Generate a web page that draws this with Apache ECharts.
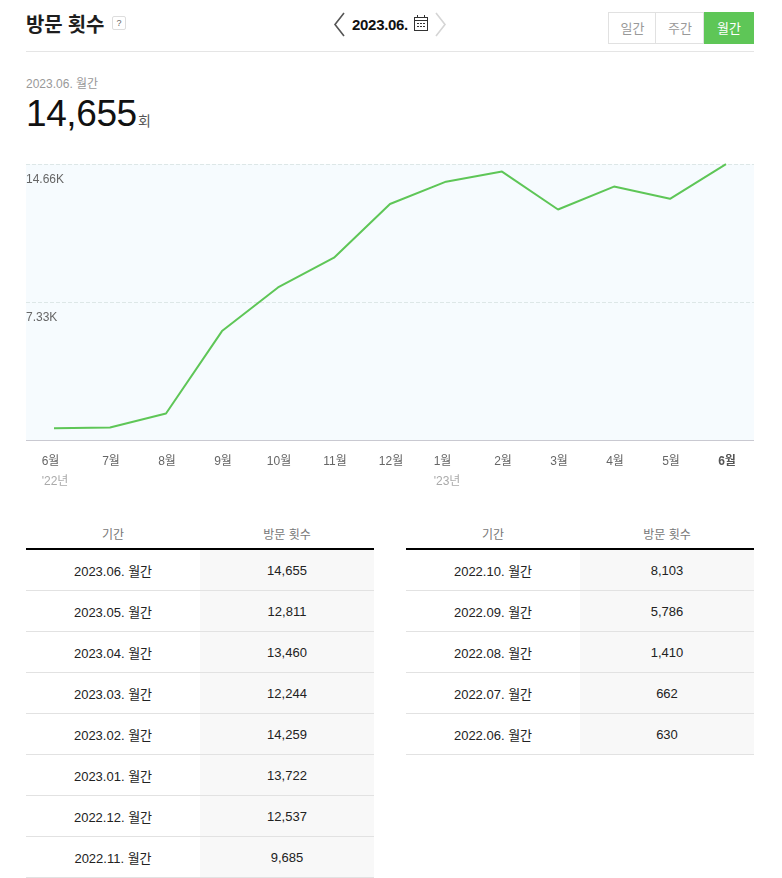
<!DOCTYPE html>
<html lang="ko">
<head>
<meta charset="utf-8">
<title>방문 횟수</title>
<script src="https://cdn.jsdelivr.net/npm/echarts@6/dist/echarts.min.js"></script>
<style>
  html, body { margin: 0; background: #fff; }
  body { position: relative; width: 782px; height: 878px; overflow: hidden;
    font-family: "Liberation Sans", "Noto Sans CJK KR", sans-serif; color: #222; }
  .abs { position: absolute; white-space: nowrap; }
  #title { left: 26px; top: 13px; font-size: 20px; line-height: 24px; font-weight: 700; color: #1e1e1e; letter-spacing: -0.2px; }
  #help { left: 112px; top: 16px; width: 12px; height: 12px; border: 1px solid #ddd; border-radius: 2px; font-size: 9px; line-height: 12px; text-align: center; color: #666; }
  #date { left: 352px; top: 15px; font-size: 15px; line-height: 20px; font-weight: 700; color: #111; letter-spacing: -0.3px; }
  #tabs { left: 608px; top: 12px; width: 146px; height: 32px; display: flex; }
  #tabs div { box-sizing: border-box; width: 48px; height: 32px; border: 1px solid #e1e1e1; border-left-width: 0; padding-left: 1px; font-size: 13px; line-height: 32px; text-align: center; color: #999; }
  #tabs div:first-child { border-left-width: 1px; }
  #tabs div.on { background: #5ec657; border-color: #5ec657; color: #fff; width: 50px; }
  #rule { left: 26px; top: 51px; width: 728px; height: 1px; background: #e5e5e5; }
  #sub { left: 26px; top: 76px; font-size: 12px; line-height: 16px; color: #999; }
  #big { left: 26px; top: 92px; font-size: 37px; line-height: 44px; color: #111; letter-spacing: -0.4px; }
  #unit { left: 138px; top: 113px; font-size: 14px; line-height: 16px; color: #555; }
  #chart { left: 26px; top: 150px; width: 728px; height: 350px; }
  table { position: absolute; top: 520px; width: 348px; border-collapse: collapse; table-layout: fixed; font-size: 13px; }
  th { height: 27px; padding: 0 0 1px; font-weight: 400; font-size: 12px; color: #777; border-bottom: 2px solid #000; text-align: center; }
  td { height: 40px; padding: 0; text-align: center; border-bottom: 1px solid #e2e2e2; color: #222; }
  td:last-child { background: #f8f8f8; padding-top: 1px; height: 39px; }
  th:first-child { width: 174px; }
</style>
</head>
<body>
<div class="abs" id="title">방문 횟수</div>
<div class="abs" id="help">?</div>
<svg class="abs" style="left:330px;top:12px" width="120" height="26" fill="none">
  <polyline points="14,1 5,12.5 14,24" stroke="#555" stroke-width="1.6"/>
  <polyline points="106,1 115,12.5 106,24" stroke="#d5d5d5" stroke-width="1.6"/>
  <g stroke="#333" stroke-width="1">
    <rect x="84.5" y="5.5" width="13" height="13"/>
    <line x1="84" y1="8.5" x2="98" y2="8.5"/>
    <line x1="87.5" y1="3" x2="87.5" y2="6"/>
    <line x1="94.5" y1="3" x2="94.5" y2="6"/>
    <line x1="87" y1="11.5" x2="95" y2="11.5" stroke-dasharray="2 1"/>
    <line x1="87" y1="14.5" x2="95" y2="14.5" stroke-dasharray="2 1"/>
  </g>
</svg>
<div class="abs" id="date">2023.06.</div>
<div class="abs" id="tabs"><div>일간</div><div>주간</div><div class="on">월간</div></div>
<div class="abs" id="rule"></div>
<div class="abs" id="sub">2023.06. 월간</div>
<div class="abs" id="big">14,655</div>
<div class="abs" id="unit">회</div>
<div class="abs" id="chart"></div>
<table id="tableLeft" style="left:26px"></table>
<table id="tableRight" style="left:406px"></table>

<script>
// oldest -> newest
const months = ['6월', '7월', '8월', '9월', '10월', '11월', '12월', '1월', '2월', '3월', '4월', '5월', '6월']
const years = { 0: "'22년", 7: "'23년" }
const periods = ['2022.06.', '2022.07.', '2022.08.', '2022.09.', '2022.10.', '2022.11.', '2022.12.', '2023.01.', '2023.02.', '2023.03.', '2023.04.', '2023.05.', '2023.06.']
const visits = [630, 662, 1410, 5786, 8103, 9685, 12537, 13722, 14259, 12244, 13460, 12811, 14655]
const yMax = 14660
const yStep = 7330

const chart = echarts.init(document.getElementById('chart'))

function monthLabel(value, index) {
  if (index === months.length - 1) return `{last|${value}}`
  return years[index] ? `{m|${value}}\n{y|${years[index]}}` : `{m|${value}}`
}

chart.setOption({
  animation: false,
  tooltip: { trigger: 'axis' },
  grid: {
    left: 0,
    right: 0,
    top: 14,
    height: 276,
    outerBoundsMode: 'none',
    show: true,
    backgroundColor: '#f6fbfe',
    borderWidth: 0,
  },
  textStyle: { fontFamily: '"Liberation Sans", "Noto Sans CJK KR", sans-serif' },
  xAxis: {
    type: 'category',
    boundaryGap: true,
    data: months,
    axisLine: { lineStyle: { color: '#c9c9d1', width: 1 } },
    axisTick: { show: false },
    axisLabel: {
      interval: 0,
      margin: 12,
      padding: [0, 0, 0, 2],
      formatter: monthLabel,
      rich: {
        m: { align: 'left', fontSize: 12, color: '#666', lineHeight: 20 },
        y: { align: 'left', fontSize: 12, color: '#aaa', lineHeight: 20 },
        last: { fontSize: 12, fontWeight: 700, color: '#555', lineHeight: 20 },
      },
    },
  },
  yAxis: {
    type: 'value',
    min: 0,
    max: yMax,
    interval: yStep,
    axisLine: { show: false },
    axisTick: { show: false },
    splitLine: { lineStyle: { color: '#dde7e7', type: 'dashed', width: 1 } },
    axisLabel: {
      inside: true,
      margin: 0,
      fontSize: 12,
      color: '#666',
      verticalAlign: 'top',
      padding: [10, 0, 0, 0],
      formatter: (v) => (v === 0 ? '' : (v / 1000).toFixed(2) + 'K'),
    },
  },
  series: [
    {
      type: 'line',
      data: visits,
      symbol: 'none',
      lineStyle: { color: '#5ec657', width: 2 },
      itemStyle: { color: '#5ec657' },
    },
  ],
})

// tables run newest first, 8 rows on the left and the rest on the right
const rows = periods.map((p, i) => [p + ' 월간', visits[i].toLocaleString('en-US')]).reverse()

function fillTable(id, list) {
  const head = '<tr><th>기간</th><th>방문 횟수</th></tr>'
  const body = list.map((r) => `<tr><td>${r[0]}</td><td>${r[1]}</td></tr>`).join('')
  document.getElementById(id).innerHTML = head + body
}
fillTable('tableLeft', rows.slice(0, 8))
fillTable('tableRight', rows.slice(8))
</script>
</body>
</html>
